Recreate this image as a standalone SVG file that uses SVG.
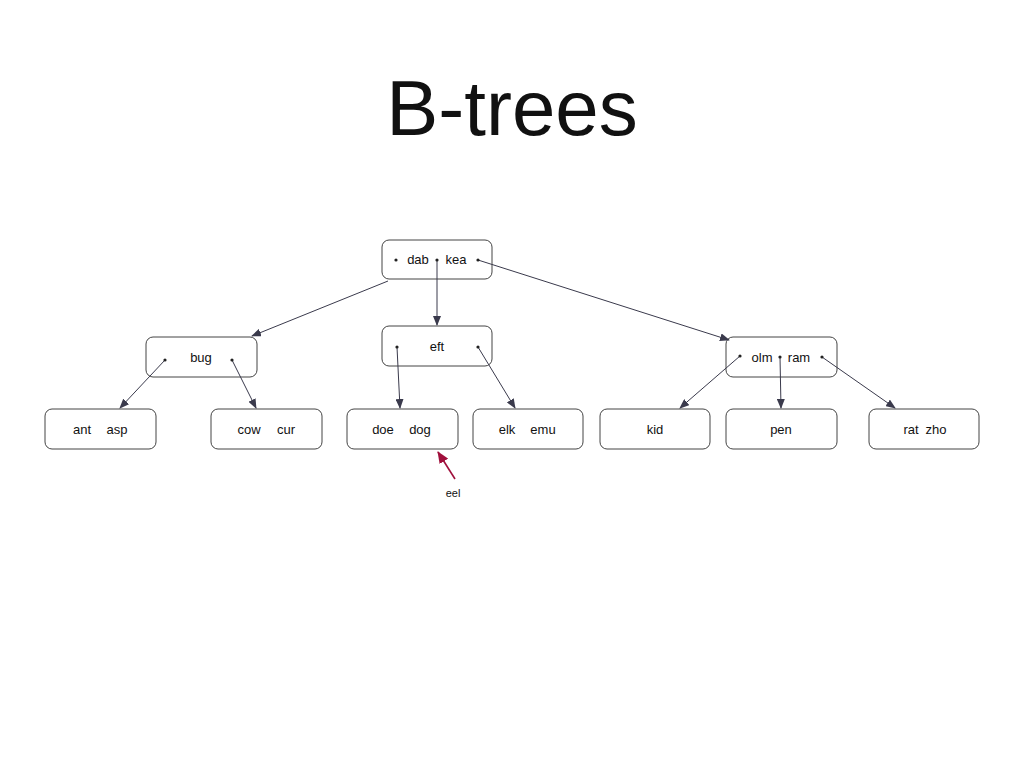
<svg xmlns="http://www.w3.org/2000/svg" width="1024" height="768" viewBox="0 0 1024 768">
<style>
.box{fill:#fff;stroke:#444;stroke-width:1}
.t{font-family:"Liberation Sans",Arial,sans-serif;font-size:13px;fill:#111;text-anchor:middle}
.c{stroke:#3a3a4c;stroke-width:1;fill:none;marker-end:url(#ah)}
.d{fill:#222}
</style>
<defs>
<marker id="ah" markerWidth="10" markerHeight="8" refX="9" refY="4" orient="auto" markerUnits="userSpaceOnUse"><path d="M0,0 L10,4 L0,8 Z" fill="#3a3a4c"/></marker>
<marker id="ahr" markerWidth="12" markerHeight="10" refX="11" refY="5" orient="auto" markerUnits="userSpaceOnUse"><path d="M0,0 L12,5 L0,10 Z" fill="#a0103c"/></marker>
</defs>
<rect width="1024" height="768" fill="#fff"/>
<text x="512" y="135" style="font-family:'Liberation Sans',Arial,sans-serif;font-size:78px;fill:#111;text-anchor:middle">B-trees</text>
<g id="root"><rect class="box" x="382" y="240" width="110" height="39" rx="7"/><text class="t" x="418" y="264">dab</text><text class="t" x="456" y="264">kea</text></g>
<g id="bug"><rect class="box" x="146" y="337" width="111" height="40" rx="7"/><text class="t" x="201" y="362">bug</text></g>
<g id="eft"><rect class="box" x="382" y="326" width="110" height="40" rx="7"/><text class="t" x="437" y="351">eft</text></g>
<g id="olmram"><rect class="box" x="726" y="337" width="111" height="40" rx="7"/><text class="t" x="762" y="362">olm</text><text class="t" x="799" y="362">ram</text></g>
<g id="antasp"><rect class="box" x="45" y="409" width="111" height="40" rx="7"/><text class="t" x="82" y="434">ant</text><text class="t" x="117" y="434">asp</text></g>
<g id="cowcur"><rect class="box" x="211" y="409" width="111" height="40" rx="7"/><text class="t" x="249" y="434">cow</text><text class="t" x="286" y="434">cur</text></g>
<g id="doedog"><rect class="box" x="347" y="409" width="111" height="40" rx="7"/><text class="t" x="383" y="434">doe</text><text class="t" x="420" y="434">dog</text></g>
<g id="elkemu"><rect class="box" x="473" y="409" width="110" height="40" rx="7"/><text class="t" x="507" y="434">elk</text><text class="t" x="543" y="434">emu</text></g>
<g id="kid"><rect class="box" x="600" y="409" width="110" height="40" rx="7"/><text class="t" x="655" y="434">kid</text></g>
<g id="pen"><rect class="box" x="726" y="409" width="111" height="40" rx="7"/><text class="t" x="781" y="434">pen</text></g>
<g id="ratzho"><rect class="box" x="869" y="409" width="110" height="40" rx="7"/><text class="t" x="911" y="434">rat</text><text class="t" x="936" y="434">zho</text></g>
<g id="eel"><text class="t" x="453" y="497" style="font-size:11px">eel</text></g>
<g id="connectors">
<path class="c" d="M388,281 L252,336"/>
<path class="c" d="M437,260 L437,325"/>
<path class="c" d="M478,260 L729,340"/>
<path class="c" d="M165,360 L120,408"/>
<path class="c" d="M232,360 L256,408"/>
<path class="c" d="M397,347 L400,408"/>
<path class="c" d="M478,347 L515,408"/>
<path class="c" d="M740,356 L680,408"/>
<path class="c" d="M780,357 L781,408"/>
<path class="c" d="M822,357 L895,408"/>
<path d="M455,479 L438,452" stroke="#a0103c" stroke-width="1.6" fill="none" marker-end="url(#ahr)"/>
<g class="d"><circle cx="396" cy="260" r="1.6"/><circle cx="437" cy="260" r="1.6"/><circle cx="478" cy="260" r="1.6"/><circle cx="165" cy="360" r="1.6"/><circle cx="232" cy="360" r="1.6"/><circle cx="397" cy="347" r="1.6"/><circle cx="478" cy="347" r="1.6"/><circle cx="740" cy="356" r="1.6"/><circle cx="780" cy="357" r="1.6"/><circle cx="822" cy="357" r="1.6"/></g>
</g>
</svg>
